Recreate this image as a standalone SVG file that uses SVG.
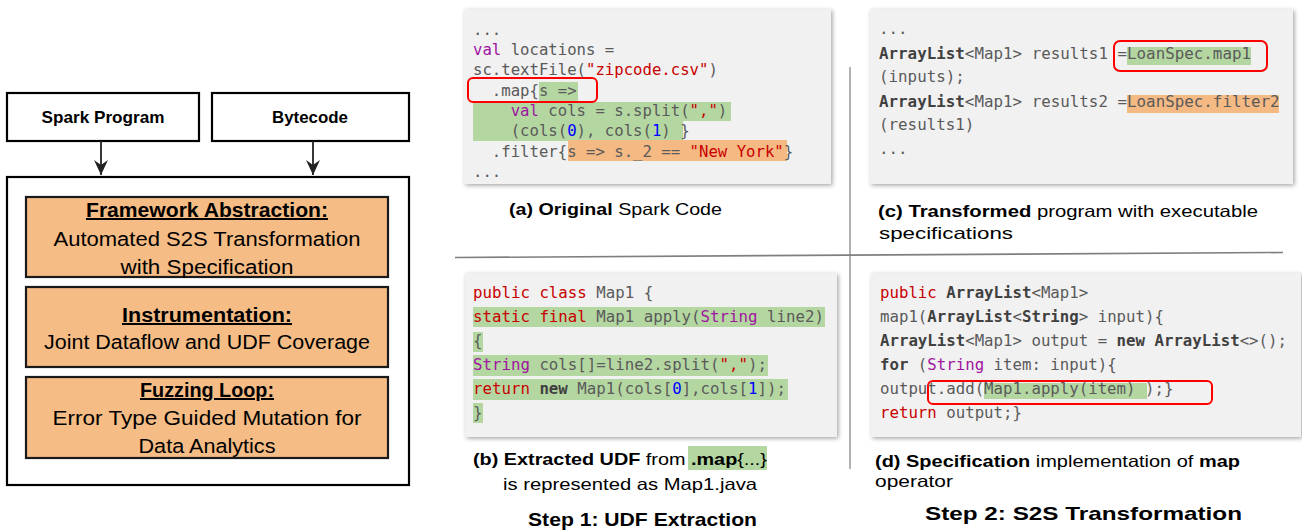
<svg xmlns="http://www.w3.org/2000/svg" width="1302" height="531" viewBox="0 0 1302 531">
<style>
.bx{fill:#ffffff;stroke:#000;stroke-width:2.2}
.ob{fill:#f5bc85;stroke:#1a1a1a;stroke-width:2.2}
.lt{font-family:"Liberation Sans",Arial,sans-serif;fill:#000}
.hd{font-weight:bold;font-size:20px;text-decoration:underline}
.bd{font-size:20px}
.nb{font-weight:bold;font-size:17px}
.cp{font-family:"Liberation Sans",Arial,sans-serif;font-size:16.5px;fill:#000}
.st{font-family:"Liberation Sans",Arial,sans-serif;font-size:19px;font-weight:bold;fill:#000}
.b{font-weight:bold}
.panel{fill:#f1f1f1;filter:url(#sh)}
.code{font-family:"DejaVu Sans Mono","Liberation Mono",monospace;fill:#5a5a5a;white-space:pre}
.r{fill:#c80000}
.p{fill:#a0149f}
.n{fill:#0000ff}
.k{font-weight:bold;fill:#404040}
.g{fill:#b4d7a2}
.o{fill:#f5b984}
.red{fill:none;stroke:#ff0000;stroke-width:2}
.div{stroke:#7f7f7f;fill:none}
.arr{stroke:#222;stroke-width:1.8;fill:none;marker-end:url(#ah)}
</style>
<defs>
<filter id="sh" x="-5%" y="-5%" width="110%" height="115%">
<feDropShadow dx="1.5" dy="1.5" stdDeviation="2" flood-color="#000" flood-opacity="0.35"/>
</filter>
<marker id="ah" markerUnits="userSpaceOnUse" markerWidth="16" markerHeight="20" refX="15" refY="7" orient="auto">
<path d="M15,7 L0,0 L5,7 L0,14 Z" fill="#222"/>
</marker>
</defs>

<!-- Left overview -->
<g id="spark-program">
<rect class="bx" x="7" y="93" width="192" height="48"/>
<text class="lt nb" x="103" y="123" text-anchor="middle" textLength="123" lengthAdjust="spacingAndGlyphs">Spark Program</text>
</g>
<g id="bytecode">
<rect class="bx" x="212" y="93" width="197" height="48"/>
<text class="lt nb" x="310" y="123" text-anchor="middle" textLength="76" lengthAdjust="spacingAndGlyphs">Bytecode</text>
</g>
<g id="framework">
<rect class="bx" x="7" y="177" width="402" height="308"/>
</g>
<g id="framework-abstraction">
<rect class="ob" x="26" y="197" width="362" height="80"/>
<text class="lt hd" x="207" y="217" text-anchor="middle" textLength="242" lengthAdjust="spacingAndGlyphs">Framework Abstraction:</text>
<text class="lt bd" x="207" y="246" text-anchor="middle" textLength="307" lengthAdjust="spacingAndGlyphs">Automated S2S Transformation</text>
<text class="lt bd" x="207" y="274" text-anchor="middle" textLength="173" lengthAdjust="spacingAndGlyphs">with Specification</text>
</g>
<g id="instrumentation">
<rect class="ob" x="26" y="287" width="362" height="80"/>
<text class="lt hd" x="207" y="322" text-anchor="middle" textLength="170" lengthAdjust="spacingAndGlyphs">Instrumentation:</text>
<text class="lt bd" x="207" y="349" text-anchor="middle" textLength="326" lengthAdjust="spacingAndGlyphs">Joint Dataflow and UDF Coverage</text>
</g>
<g id="fuzzing-loop">
<rect class="ob" x="26" y="377" width="362" height="81"/>
<text class="lt hd" x="207" y="397" text-anchor="middle" textLength="134" lengthAdjust="spacingAndGlyphs">Fuzzing Loop:</text>
<text class="lt bd" x="207" y="425" text-anchor="middle" textLength="309" lengthAdjust="spacingAndGlyphs">Error Type Guided Mutation for</text>
<text class="lt bd" x="207" y="453" text-anchor="middle" textLength="137" lengthAdjust="spacingAndGlyphs">Data Analytics</text>
</g>
<g id="connectors">
<line class="arr" x1="101" y1="141" x2="101" y2="175"/>
<line class="arr" x1="313" y1="141" x2="313" y2="175"/>
</g>

<!-- Dividers -->
<g id="dividers">
<line class="div" x1="850" y1="67" x2="850" y2="469" stroke-width="1.2"/>
<line class="div" x1="455" y1="257.5" x2="1283" y2="252.5" stroke-width="1.6"/>
</g>

<!-- Panel (a) -->
<g id="panel-a">
<rect class="panel" x="464" y="9" width="367" height="175"/>
<rect class="g" x="539" y="82" width="39" height="20"/>
<rect class="g" x="473" y="102" width="258" height="19"/>
<rect class="g" x="473" y="121" width="210" height="20"/>
<rect class="o" x="568" y="140" width="219" height="21"/>
<rect class="red" x="468" y="78" width="129" height="24" rx="5"/>
<text xml:space="preserve" class="code" font-size="15.65" x="473" y="35">...</text>
<text xml:space="preserve" class="code" font-size="15.65" x="473" y="55"><tspan class="p">val</tspan> locations =</text>
<text xml:space="preserve" class="code" font-size="15.65" x="473" y="75">sc.textFile(<tspan class="r">"zipcode.csv"</tspan>)</text>
<text xml:space="preserve" class="code" font-size="15.65" x="473" y="96">  .map{s =&gt;</text>
<text xml:space="preserve" class="code" font-size="15.65" x="473" y="116">    <tspan class="p">val</tspan> cols = s.split(<tspan class="r">","</tspan>)</text>
<text xml:space="preserve" class="code" font-size="15.65" x="473" y="136">    (cols(<tspan class="n">0</tspan>), cols(<tspan class="n">1</tspan>) }</text>
<text xml:space="preserve" class="code" font-size="15.65" x="473" y="157">  .filter{s =&gt; s._2 == <tspan class="r">"New York"</tspan>}</text>
<text xml:space="preserve" class="code" font-size="15.65" x="473" y="177">...</text>
</g>
<g id="caption-a">
<text class="cp" x="509" y="215" textLength="213" lengthAdjust="spacingAndGlyphs"><tspan class="b">(a)  Original</tspan> Spark Code</text>
</g>

<!-- Panel (c) -->
<g id="panel-c">
<rect class="panel" x="870" y="9" width="423" height="175"/>
<rect class="g" x="1127" y="47" width="124" height="18"/>
<rect class="o" x="1127" y="95" width="152" height="18"/>
<rect class="red" x="1114" y="41" width="153" height="30" rx="6"/>
<text xml:space="preserve" class="code" font-size="15.85" x="879" y="34">...</text>
<text xml:space="preserve" class="code" font-size="15.85" x="879" y="59"><tspan class="k">ArrayList</tspan>&lt;Map1&gt; results1 =LoanSpec.map1</text>
<text xml:space="preserve" class="code" font-size="15.85" x="879" y="82">(inputs);</text>
<text xml:space="preserve" class="code" font-size="15.85" x="879" y="107"><tspan class="k">ArrayList</tspan>&lt;Map1&gt; results2 =LoanSpec.filter2</text>
<text xml:space="preserve" class="code" font-size="15.85" x="879" y="130">(results1)</text>
<text xml:space="preserve" class="code" font-size="15.85" x="879" y="154">...</text>
</g>
<g id="caption-c">
<text class="cp" x="878" y="217" textLength="380" lengthAdjust="spacingAndGlyphs"><tspan class="b">(c)  Transformed</tspan> program with executable</text>
<text class="cp" x="879" y="239" textLength="134" lengthAdjust="spacingAndGlyphs">specifications</text>
</g>

<!-- Panel (b) -->
<g id="panel-b">
<rect class="panel" x="465" y="273" width="372" height="164"/>
<rect class="g" x="473" y="307" width="352" height="20"/>
<rect class="g" x="473" y="332" width="10" height="20"/>
<rect class="g" x="473" y="355" width="295" height="21"/>
<rect class="g" x="473" y="379" width="315" height="21"/>
<rect class="g" x="473" y="403" width="10" height="20"/>
<text xml:space="preserve" class="code" font-size="15.75" x="473" y="298"><tspan class="r">public class</tspan> Map1 {</text>
<text xml:space="preserve" class="code" font-size="15.75" x="473" y="322"><tspan class="r">static final</tspan> Map1 apply(<tspan class="p">String</tspan> line2)</text>
<text xml:space="preserve" class="code" font-size="15.75" x="473" y="346">{</text>
<text xml:space="preserve" class="code" font-size="15.75" x="473" y="370"><tspan class="p">String</tspan> cols[]=line2.split(<tspan class="r">","</tspan>);</text>
<text xml:space="preserve" class="code" font-size="15.75" x="473" y="394"><tspan class="r">return</tspan> <tspan class="k">new</tspan> Map1(cols[<tspan class="n">0</tspan>],cols[<tspan class="n">1</tspan>]);</text>
<text xml:space="preserve" class="code" font-size="15.75" x="473" y="418">}</text>
</g>
<g id="caption-b">
<rect class="g" x="688" y="446" width="79" height="24"/>
<text class="cp" x="473" y="465" textLength="294" lengthAdjust="spacingAndGlyphs"><tspan class="b">(b) Extracted UDF</tspan> from <tspan class="b">.map</tspan>{...}</text>
<text class="cp" x="503" y="490" textLength="254" lengthAdjust="spacingAndGlyphs">is represented as Map1.java</text>
<text class="st" x="528" y="526" textLength="229" lengthAdjust="spacingAndGlyphs">Step 1: UDF Extraction</text>
</g>

<!-- Panel (d) -->
<g id="panel-d">
<rect class="panel" x="871" y="273" width="430" height="164"/>
<rect class="g" x="984" y="383" width="163" height="16"/>
<rect class="red" x="928" y="381" width="284" height="23" rx="5"/>
<text xml:space="preserve" class="code" font-size="15.73" x="880" y="298"><tspan class="r">public</tspan> <tspan class="k">ArrayList</tspan>&lt;Map1&gt;</text>
<text xml:space="preserve" class="code" font-size="15.73" x="880" y="322">map1(<tspan class="k">ArrayList</tspan>&lt;<tspan class="k">String</tspan>&gt; input){</text>
<text xml:space="preserve" class="code" font-size="15.73" x="880" y="346"><tspan class="k">ArrayList</tspan>&lt;Map1&gt; output = <tspan class="k">new</tspan> <tspan class="k">ArrayList</tspan>&lt;&gt;();</text>
<text xml:space="preserve" class="code" font-size="15.73" x="880" y="370"><tspan class="k">for</tspan> (<tspan class="p">String</tspan> item: input){</text>
<text xml:space="preserve" class="code" font-size="15.73" x="880" y="394">output.add(Map1.apply(item) );}</text>
<text xml:space="preserve" class="code" font-size="15.73" x="880" y="418"><tspan class="r">return</tspan> output;}</text>
</g>
<g id="caption-d">
<text class="cp" x="875" y="467" textLength="365" lengthAdjust="spacingAndGlyphs"><tspan class="b">(d) Specification</tspan> implementation of <tspan class="b">map</tspan></text>
<text class="cp" x="875" y="487" textLength="78" lengthAdjust="spacingAndGlyphs">operator</text>
<text class="st" x="925" y="520" textLength="317" lengthAdjust="spacingAndGlyphs">Step 2: S2S Transformation</text>
</g>
</svg>
